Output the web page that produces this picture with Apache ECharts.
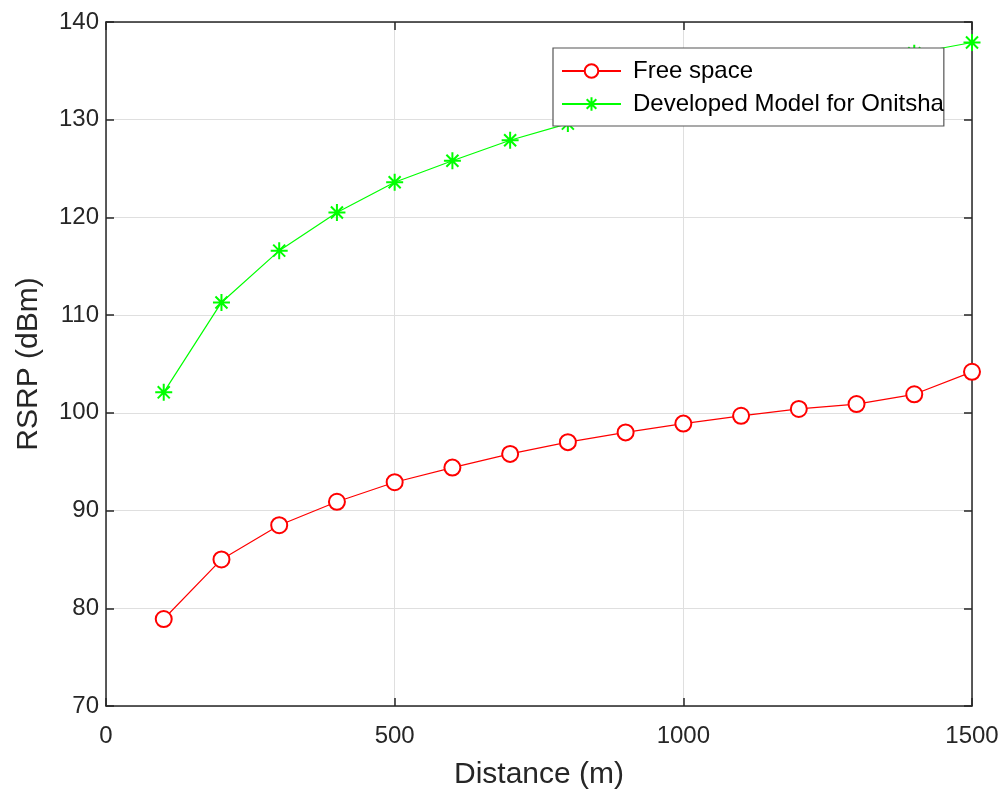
<!DOCTYPE html>
<html>
<head>
<meta charset="utf-8">
<script src="https://cdn.jsdelivr.net/npm/echarts@6/dist/echarts.min.js"></script>
<style>html,body{margin:0;padding:0;background:#fff}#c{width:1008px;height:790px}</style>
</head>
<body>
<div id="c"></div>
<script>
const distances = [100,200,300,400,500,600,700,800,900,1000,1100,1200,1300,1400,1500];
const freeSpace = [78.9,85.0,88.5,90.9,92.9,94.4,95.8,97.0,98.0,98.9,99.7,100.4,100.9,101.9,104.2];
const developedModel = [102.1,111.3,116.6,120.5,123.6,125.8,127.9,129.6,131.2,132.6,133.9,135.0,136.0,136.8,137.9];
const xTicks = [0,500,1000,1500];
const yTicks = [70,80,90,100,110,120,130,140];
const seriesNames = ['Free space','Developed Model for Onitsha'];

const FONT = '"Liberation Sans", Arial, Helvetica, sans-serif';
const AX = '#262626';
const star = 'path://M0,-10L0,10M-10,0L10,0M-7.07,-7.07L7.07,7.07M-7.07,7.07L7.07,-7.07';

const chart = echarts.init(document.getElementById('c'), null, {renderer:'canvas'});
const xMin = xTicks[0], xMax = xTicks[xTicks.length-1];
const yMin = yTicks[0], yMax = yTicks[yTicks.length-1];
const axisCommon = {
  axisLine:{show:true, onZero:false, lineStyle:{color:AX, width:1.5}},
  axisTick:{show:true, inside:true, length:8, lineStyle:{color:AX, width:1.5}}
};
chart.setOption({
  animation:false,
  backgroundColor:'#fff',
  grid:{left:106, right:36, top:22, bottom:84, containLabel:false, outerBoundsMode:'none'},
  legend:{
    left:553, top:48, orient:'vertical',
    data:seriesNames,
    backgroundColor:'#fff', borderColor:'#555', borderWidth:1.2,
    padding:[11,0,10,8], itemGap:9, itemWidth:59, itemHeight:17,
    textStyle:{fontFamily:FONT, fontSize:24, color:'#000', padding:[0,0,0,7]}
  },
  xAxis:[
    Object.assign({type:'value', min:xMin, max:xMax, interval:500, position:'bottom',
      name:'Distance (m)', nameLocation:'middle', nameGap:54,
      nameTextStyle:{fontFamily:FONT, fontSize:30, color:AX},
      axisLabel:{fontFamily:FONT, fontSize:24, color:AX, margin:18, formatter:v=>String(v)},
      splitLine:{show:true, lineStyle:{color:'#dfdfdf', width:1}}}, axisCommon),
    Object.assign({type:'value', min:xMin, max:xMax, interval:500, position:'top',
      axisLabel:{show:false}, splitLine:{show:false}}, axisCommon)
  ],
  yAxis:[
    Object.assign({type:'value', min:yMin, max:yMax, interval:10, position:'left',
      name:'RSRP (dBm)', nameLocation:'middle', nameGap:62,
      nameTextStyle:{fontFamily:FONT, fontSize:30, color:AX},
      axisLabel:{fontFamily:FONT, fontSize:24, color:AX, margin:7},
      splitLine:{show:true, lineStyle:{color:'#dfdfdf', width:1}}}, axisCommon),
    Object.assign({type:'value', min:yMin, max:yMax, interval:10, position:'right',
      axisLabel:{show:false}, splitLine:{show:false}}, axisCommon)
  ],
  series:[
    {name:seriesNames[0], type:'line', xAxisIndex:0, yAxisIndex:0,
     data:distances.map((d,i)=>[d,freeSpace[i]]),
     symbol:'emptyCircle', symbolSize:16,
     lineStyle:{color:'#ff0000', width:1.2},
     itemStyle:{color:'#ff0000', borderColor:'#ff0000', borderWidth:1.6}},
    {name:seriesNames[1], type:'line', xAxisIndex:0, yAxisIndex:0,
     data:distances.map((d,i)=>[d,developedModel[i]]),
     symbol:star, symbolSize:17,
     lineStyle:{color:'#00ff00', width:1.2},
     itemStyle:{color:'#00ff00', borderColor:'#00ff00', borderWidth:2}}
  ]
});
</script>
</body>
</html>
